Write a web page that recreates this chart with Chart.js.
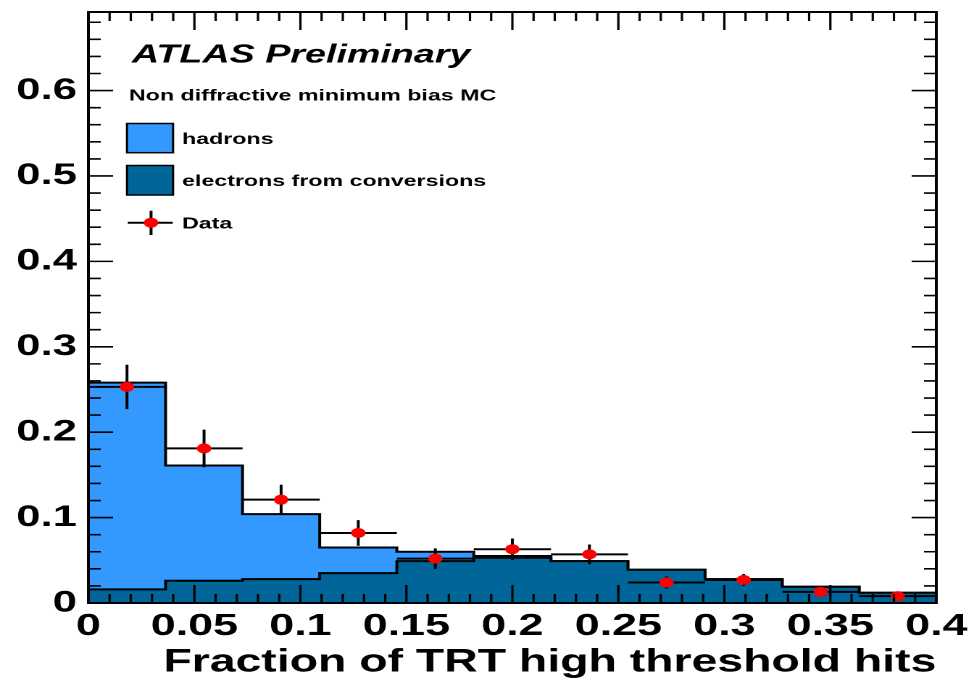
<!DOCTYPE html>
<html>
<head>
<meta charset="utf-8">
<script src="https://cdn.jsdelivr.net/npm/chart.js@4.4.1/dist/chart.umd.min.js"></script>
<style>
html,body{margin:0;padding:0;background:#fff;overflow:hidden;}
#wrap{position:absolute;left:0;top:0;width:672px;height:679px;transform:scaleX(1.449405);transform-origin:0 0;}
</style>
</head>
<body>
<div id="wrap"><canvas id="c"></canvas></div>
<script>
// ---- data ----
const binEdges = [0, 0.0364, 0.0727, 0.1091, 0.1455, 0.1818, 0.2182, 0.2545, 0.2909, 0.3273, 0.3636, 0.4];
const hadrons = [0.242, 0.135, 0.076, 0.030, 0.011, 0.002, 0, 0, 0, 0, 0];
const electrons = [0.016, 0.026, 0.028, 0.035, 0.049, 0.053, 0.049, 0.039, 0.028, 0.019, 0.012];
const dataValues = [0.253, 0.181, 0.121, 0.082, 0.052, 0.063, 0.057, 0.024, 0.027, 0.013, 0.008];
const dataErrors = [0.026, 0.022, 0.0175, 0.015, 0.012, 0.0125, 0.0115, 0.007, 0.007, 0.004, 0.003];
const xTicks = [0, 0.05, 0.1, 0.15, 0.2, 0.25, 0.3, 0.35, 0.4];
const xTickLabels = ['0', '0.05', '0.1', '0.15', '0.2', '0.25', '0.3', '0.35', '0.4'];
const yTicks = [0, 0.1, 0.2, 0.3, 0.4, 0.5, 0.6];
const yTickLabels = ['0', '0.1', '0.2', '0.3', '0.4', '0.5', '0.6'];
const xTitle = 'Fraction of TRT high threshold hits';
const atlasLabel = 'ATLAS Preliminary';
const sampleLabel = 'Non diffractive minimum bias MC';
const seriesLabels = ['Data', 'electrons from conversions', 'hadrons'];
const yMax = 0.692;

// ---- derived tables ----
const totals = hadrons.map((h, i) => h + electrons[i]);
const centers = dataValues.map((_, i) => (binEdges[i] + binEdges[i + 1]) / 2);
function stepPoints(vals) {
  const pts = vals.map((v, i) => ({x: binEdges[i], y: v}));
  pts.push({x: binEdges[binEdges.length - 1], y: vals[vals.length - 1]});
  return pts;
}
const dataPts = dataValues.map((v, i) => ({x: centers[i], y: v}));

const FONT = '"Liberation Sans", Arial, Helvetica, sans-serif';

const errorBars = {
  id: 'errorBars',
  beforeDatasetDraw(chart, args) {
    if (args.index !== 0) return;
    const {ctx, scales: {x, y}} = chart;
    ctx.save();
    ctx.strokeStyle = '#000';
    ctx.lineWidth = 2;
    dataValues.forEach((v, i) => {
      const xl = x.getPixelForValue(binEdges[i]);
      const xr = x.getPixelForValue(binEdges[i + 1]);
      const xc = x.getPixelForValue(centers[i]);
      const yc = y.getPixelForValue(v);
      const yt = y.getPixelForValue(v + dataErrors[i]);
      const yb = y.getPixelForValue(v - dataErrors[i]);
      ctx.beginPath();
      ctx.moveTo(xl, yc); ctx.lineTo(xr, yc);
      ctx.moveTo(xc, yt); ctx.lineTo(xc, yb);
      ctx.stroke();
    });
    ctx.restore();
  }
};

const frame = {
  id: 'frame',
  afterDatasetsDraw(chart) {
    const {ctx, chartArea: a, scales: {x, y}} = chart;
    ctx.save();
    ctx.strokeStyle = '#000';
    ctx.lineWidth = 1.6;
    ctx.beginPath();
    for (let k = 0; k <= 40; k++) {
      const px = x.getPixelForValue(k * 0.01);
      const L = (k % 5 === 0) ? 18 : 9;
      ctx.moveTo(px, a.bottom); ctx.lineTo(px, a.bottom - L);
      ctx.moveTo(px, a.top); ctx.lineTo(px, a.top + L);
    }
    for (let k = 0; k * 0.02 <= yMax; k++) {
      const py = y.getPixelForValue(k * 0.02);
      const L = (k % 5 === 0) ? 17 : 8.5;
      ctx.moveTo(a.left, py); ctx.lineTo(a.left + L, py);
      ctx.moveTo(a.right, py); ctx.lineTo(a.right - L, py);
    }
    ctx.stroke();
    ctx.lineWidth = 2;
    ctx.strokeRect(a.left, a.top, a.right - a.left, a.bottom - a.top);
    ctx.restore();
  }
};

const legendBox = {
  id: 'legendBox',
  afterDraw(chart) {
    const {ctx} = chart;
    const ds = chart.data.datasets;
    ctx.save();
    ctx.fillStyle = '#000';
    ctx.textAlign = 'left';
    ctx.textBaseline = 'alphabetic';
    ctx.font = 'italic bold 26px ' + FONT;
    ctx.fillText(atlasLabel, 91, 62.5);
    ctx.font = 'bold 16px ' + FONT;
    ctx.fillText(sampleLabel, 89, 100.5);
    // hadrons box
    ctx.lineWidth = 1.5;
    ctx.strokeStyle = '#000';
    ctx.fillStyle = ds[2].backgroundColor;
    ctx.fillRect(87.6, 123.5, 31.8, 29.2);
    ctx.strokeRect(87.6, 123.5, 31.8, 29.2);
    // electrons box
    ctx.fillStyle = ds[1].backgroundColor;
    ctx.fillRect(87.6, 165.5, 31.8, 29.5);
    ctx.strokeRect(87.6, 165.5, 31.8, 29.5);
    // data marker
    ctx.lineWidth = 2;
    ctx.beginPath();
    ctx.moveTo(88.1, 222.7); ctx.lineTo(119.2, 222.7);
    ctx.moveTo(104.2, 210.7); ctx.lineTo(104.2, 235);
    ctx.stroke();
    ctx.fillStyle = '#ff0000';
    ctx.beginPath();
    ctx.arc(104.2, 222.7, 5, 0, Math.PI * 2);
    ctx.fill();
    ctx.fillStyle = '#000';
    ctx.font = 'bold 16px ' + FONT;
    ctx.fillText(ds[2].label, 125.6, 144);
    ctx.fillText(ds[1].label, 125.6, 186);
    ctx.fillText(ds[0].label, 125.6, 228.3);
    ctx.restore();
  }
};

new Chart(document.getElementById('c'), {
  type: 'line',
  data: {
    datasets: [
      {label: seriesLabels[0], data: dataPts, showLine: false, pointRadius: 5, pointHoverRadius: 5,
       pointBackgroundColor: '#ff0000', pointBorderColor: '#ff0000', pointBorderWidth: 0, order: 0},
      {label: seriesLabels[1], data: stepPoints(electrons), stepped: true, fill: 'origin',
       backgroundColor: '#006699', borderColor: '#000', borderWidth: 2, pointRadius: 0, order: 1},
      {label: seriesLabels[2], data: stepPoints(totals), stepped: true, fill: 'origin',
       backgroundColor: '#3399ff', borderColor: '#000', borderWidth: 2, pointRadius: 0, order: 2}
    ]
  },
  options: {
    responsive: true,
    maintainAspectRatio: false,
    animation: false,
    devicePixelRatio: 2,
    events: [],
    layout: {padding: {top: 12, right: 26, left: 0, bottom: 0}},
    plugins: {legend: {display: false}, tooltip: {enabled: false}},
    scales: {
      x: {
        type: 'linear', min: 0, max: 0.4,
        grid: {display: false}, border: {display: false},
        afterBuildTicks: s => { s.ticks = xTicks.map(v => ({value: v})); },
        afterFit: s => { s.height = 76; },
        ticks: {autoSkip: false, maxRotation: 0, minRotation: 0, padding: -3, color: '#000',
                font: {family: FONT, weight: 'bold', size: 31},
                callback: (v, i) => xTickLabels[i]},
        title: {display: true, text: xTitle, align: 'end', color: '#000',
                font: {family: FONT, weight: 'bold', size: 32}, padding: {top: 0, bottom: -3}}
      },
      y: {
        type: 'linear', min: 0, max: yMax,
        grid: {display: false}, border: {display: false},
        afterBuildTicks: s => { s.ticks = yTicks.map(v => ({value: v})); },
        afterFit: s => { s.width = 61; s.paddingTop = 0; s.paddingBottom = 0; },
        ticks: {autoSkip: false, padding: 0, color: '#000',
                font: {family: FONT, weight: 'bold', size: 30},
                callback: (v, i) => yTickLabels[i]}
      }
    }
  },
  plugins: [errorBars, frame, legendBox]
});
</script>
</body>
</html>
